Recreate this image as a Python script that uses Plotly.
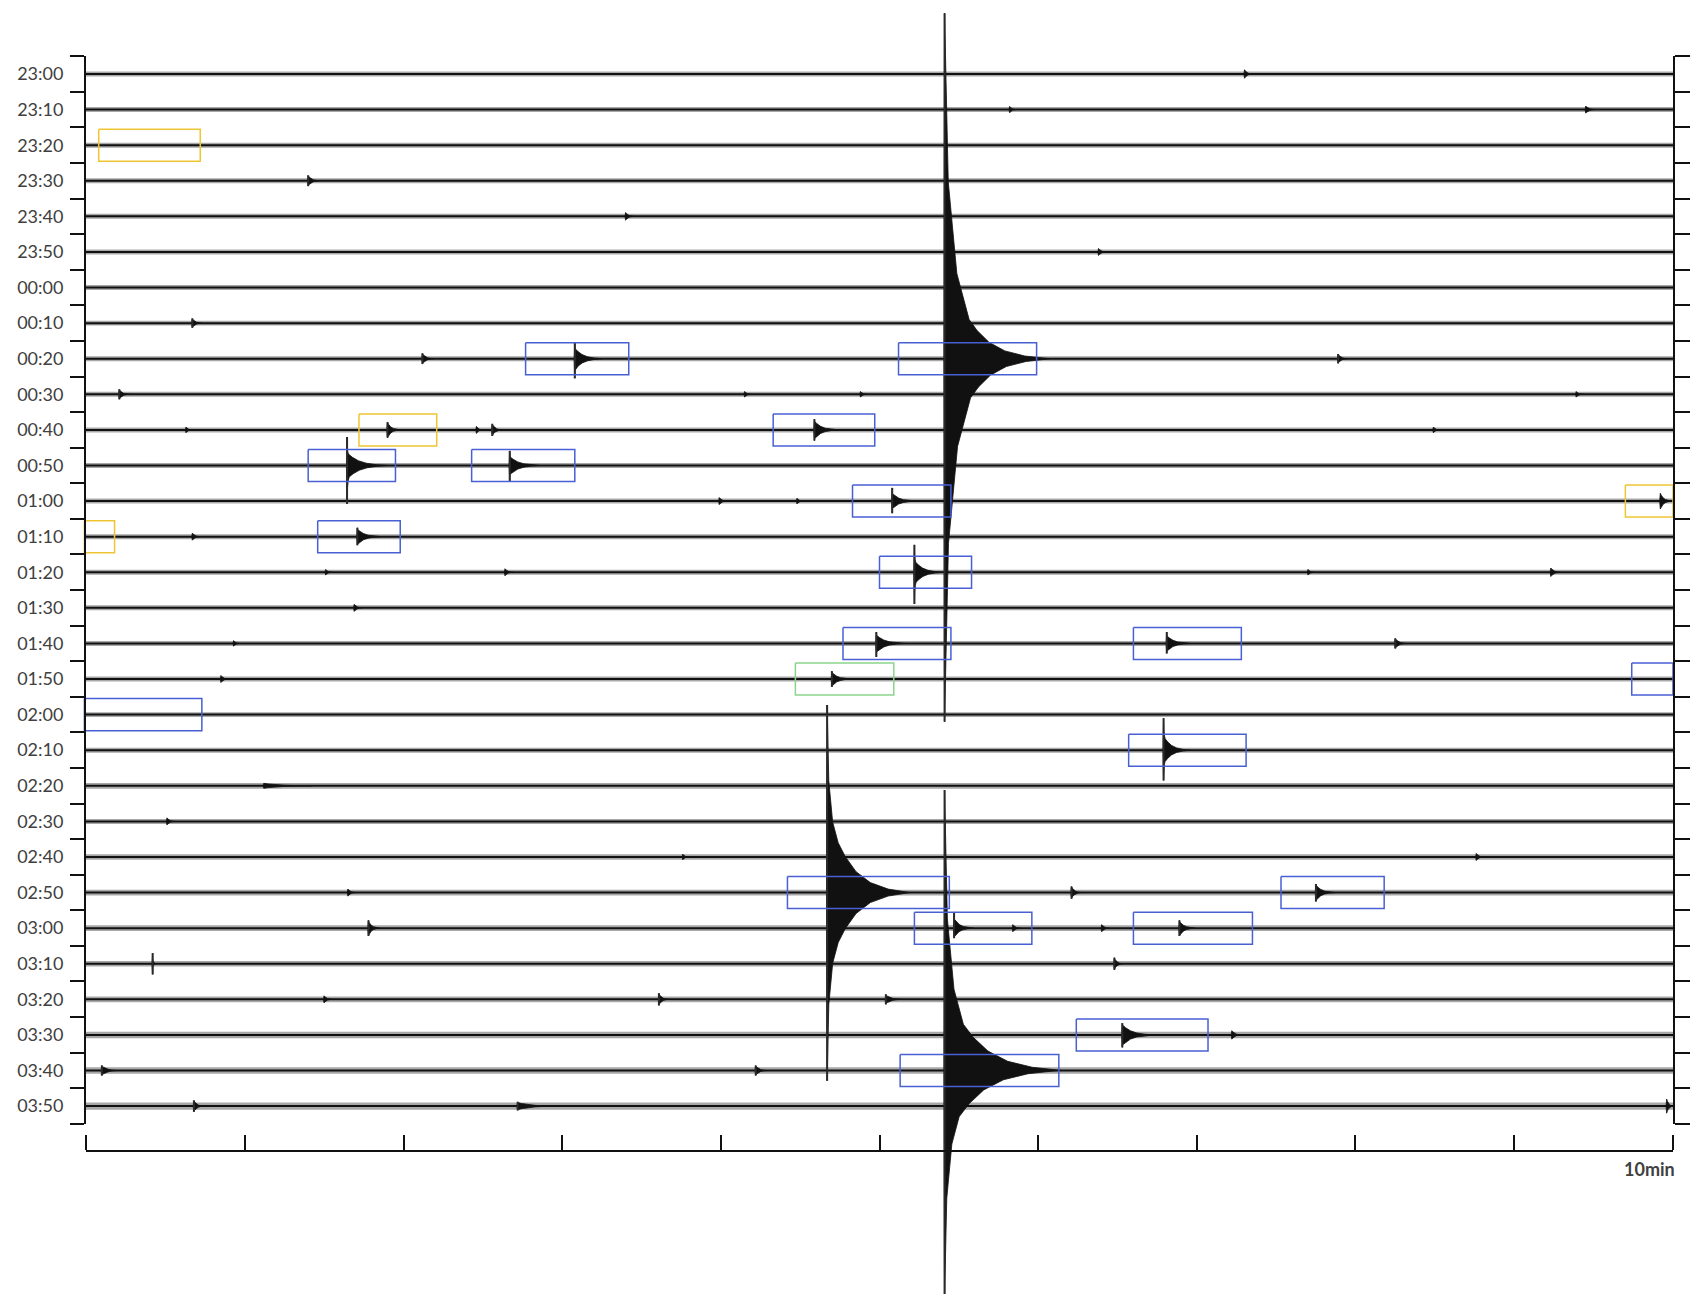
import plotly.graph_objects as go

# ---------------- data ----------------
ROW_LABELS = ["23:00", "23:10", "23:20", "23:30", "23:40", "23:50",
              "00:00", "00:10", "00:20", "00:30", "00:40", "00:50",
              "01:00", "01:10", "01:20", "01:30", "01:40", "01:50",
              "02:00", "02:10", "02:20", "02:30", "02:40", "02:50",
              "03:00", "03:10", "03:20", "03:30", "03:40", "03:50"]
MINUTE_TICKS = [0, 1, 2, 3, 4, 5, 6, 7, 8, 9, 10]
SPAN_LABEL = "10min"

# background noise half-amplitude per line (in line spacings)
ROW_NOISE = [0.07, 0.07, 0.07, 0.07, 0.07, 0.07,
             0.07, 0.07, 0.07, 0.07, 0.07, 0.07,
             0.07, 0.07, 0.07, 0.07, 0.07, 0.07,
             0.07, 0.07, 0.08, 0.07, 0.08, 0.08,
             0.08, 0.08, 0.08, 0.09, 0.09, 0.10]

# events: line, onset (min), peak up, peak down, body amplitude (line spacings), coda (min)
EV_ROW = ["23:00", "23:10", "23:10", "23:30", "23:40", "23:50", "00:10",
          "00:20", "00:20", "00:20", "00:20",
          "00:30", "00:30", "00:30", "00:30",
          "00:40", "00:40", "00:40", "00:40", "00:40", "00:40",
          "00:50", "00:50",
          "01:00", "01:00", "01:00", "01:00",
          "01:10", "01:10",
          "01:20", "01:20", "01:20", "01:20", "01:20",
          "01:30",
          "01:40", "01:40", "01:40", "01:40",
          "01:50", "01:50",
          "02:10", "02:20", "02:30", "02:40", "02:40",
          "02:50", "02:50", "02:50", "02:50",
          "03:00", "03:00", "03:00", "03:00", "03:00",
          "03:10", "03:10",
          "03:20", "03:20", "03:20",
          "03:30", "03:30",
          "03:40", "03:40", "03:40",
          "03:50", "03:50", "03:50"]
EV_T = [7.30, 5.82, 9.45, 1.40, 3.40, 6.38, 0.67,
        2.12, 3.08, 5.41, 7.89,
        0.21, 4.15, 4.88, 9.39,
        0.63, 1.90, 2.46, 2.56, 4.59, 8.49,
        1.645, 2.67,
        3.99, 4.48, 5.08, 9.92,
        0.67, 1.71,
        1.51, 2.64, 5.22, 7.70, 9.23,
        1.69,
        0.93, 4.98, 6.81, 8.25,
        0.85, 4.70,
        6.79, 1.12, 0.51, 3.76, 8.76,
        1.65, 4.67, 6.21, 7.75,
        1.78, 5.47, 5.84, 6.40, 6.89,
        0.42, 6.48,
        1.50, 3.61, 5.04,
        6.53, 7.22,
        0.10, 4.22, 5.41,
        0.68, 2.72, 9.96]
EV_UP = [0.12, 0.09, 0.10, 0.15, 0.11, 0.10, 0.13,
         0.15, 0.45, 9.71, 0.13,
         0.14, 0.08, 0.08, 0.08,
         0.08, 0.22, 0.10, 0.17, 0.30, 0.08,
         0.80, 0.41,
         0.10, 0.08, 0.37, 0.22,
         0.10, 0.25,
         0.08, 0.10, 0.77, 0.08, 0.12,
         0.10,
         0.08, 0.32, 0.32, 0.14,
         0.10, 0.22,
         0.90, 0.07, 0.10, 0.08, 0.10,
         0.10, 5.27, 0.17, 0.24,
         0.22, 0.43, 0.10, 0.10, 0.22,
         0.30, 0.17,
         0.10, 0.17, 0.14,
         0.33, 0.12,
         0.14, 0.14, 7.88,
         0.16, 0.12, 0.20]
EV_DOWN = [0.12, 0.09, 0.10, 0.15, 0.11, 0.10, 0.13,
           0.15, 0.55, 10.2, 0.13,
           0.14, 0.08, 0.08, 0.08,
           0.08, 0.22, 0.10, 0.17, 0.30, 0.08,
           1.08, 0.44,
           0.10, 0.08, 0.34, 0.22,
           0.10, 0.24,
           0.08, 0.10, 0.89, 0.08, 0.12,
           0.10,
           0.08, 0.38, 0.28, 0.14,
           0.10, 0.22,
           0.85, 0.07, 0.10, 0.08, 0.10,
           0.10, 5.29, 0.17, 0.25,
           0.22, 0.28, 0.10, 0.10, 0.22,
           0.30, 0.17,
           0.10, 0.17, 0.14,
           0.35, 0.12,
           0.14, 0.14, 6.40,
           0.16, 0.12, 0.20]
EV_BODY = [0.12, 0.09, 0.10, 0.14, 0.11, 0.10, 0.12,
           0.14, 0.28, 1.10, 0.12,
           0.13, 0.08, 0.08, 0.08,
           0.08, 0.20, 0.10, 0.16, 0.24, 0.08,
           0.32, 0.24,
           0.10, 0.08, 0.20, 0.22,
           0.10, 0.21,
           0.08, 0.10, 0.28, 0.08, 0.12,
           0.10,
           0.08, 0.23, 0.21, 0.13,
           0.10, 0.19,
           0.32, 0.07, 0.10, 0.08, 0.10,
           0.10, 1.40, 0.16, 0.21,
           0.19, 0.24, 0.10, 0.10, 0.19,
           0.05, 0.16,
           0.10, 0.15, 0.12,
           0.28, 0.12,
           0.13, 0.13, 1.30,
           0.15, 0.10, 0.20]
EV_CODA = [0.05, 0.04, 0.06, 0.07, 0.05, 0.05, 0.06,
           0.07, 0.17, 0.50, 0.06,
           0.06, 0.04, 0.04, 0.04,
           0.04, 0.08, 0.04, 0.06, 0.15, 0.04,
           0.25, 0.19,
           0.05, 0.04, 0.15, 0.07,
           0.05, 0.15,
           0.04, 0.05, 0.17, 0.04, 0.06,
           0.05,
           0.04, 0.18, 0.15, 0.07,
           0.05, 0.12,
           0.16, 0.30, 0.05, 0.04, 0.05,
           0.05, 0.45, 0.06, 0.12,
           0.07, 0.12, 0.05, 0.05, 0.10,
           0.02, 0.05,
           0.05, 0.06, 0.10,
           0.20, 0.06,
           0.10, 0.07, 0.62,
           0.06, 0.25, 0.04]

# marked windows: line, start (min), end (min), marker class
BOX_ROW = ["23:20", "00:20", "00:20", "00:40", "00:40", "00:50", "00:50",
           "01:00", "01:00", "01:10", "01:10", "01:20", "01:40", "01:40",
           "01:50", "01:50", "02:00", "02:10", "02:50", "02:50",
           "03:00", "03:00", "03:30", "03:40"]
BOX_T0 = [0.08, 2.77, 5.12, 1.72, 4.33, 1.40, 2.43,
          4.83, 9.70, -0.01, 1.46, 5.00, 4.77, 6.60,
          4.47, 9.74, -0.01, 6.57, 4.42, 7.53,
          5.22, 6.60, 6.24, 5.13]
BOX_T1 = [0.72, 3.42, 5.99, 2.21, 4.97, 1.95, 3.08,
          5.45, 10.0, 0.18, 1.98, 5.58, 5.45, 7.28,
          5.09, 10.0, 0.73, 7.31, 5.44, 8.18,
          5.96, 7.35, 7.07, 6.13]
BOX_CLASS = ["yellow", "blue", "blue", "yellow", "blue", "blue", "blue",
             "blue", "yellow", "yellow", "blue", "blue", "blue", "blue",
             "green", "blue", "blue", "blue", "blue", "blue",
             "blue", "blue", "blue", "blue"]

# ---------------- styling / geometry ----------------
W, H = 1693, 1294
X_LEFT_PX, X_RIGHT_PX = 86, 1673
ROW0_PX, ROW_PX = 74.0, 35.59
BOTTOM_AXIS_PX = 1152
PX_PER_MIN = (X_RIGHT_PX - X_LEFT_PX) / (MINUTE_TICKS[-1] - MINUTE_TICKS[0])
BOX_HALF = 0.45
SLOPE = 0.018           # width of the tapering spike, minutes per line spacing
TAPER_F = [0.0, 0.15, 0.5, 1.0]
TAPER_H = [1.0, 0.45, 0.15, 0.0]
EPS = 0.004
PROF_T = [0.0, 0.1, 0.25, 0.45, 0.7, 1.0]
PROF_A = [1.0, 0.72, 0.42, 0.2, 0.07, 0.0]
BOX_COLORS = {"blue": "#4860d4", "yellow": "#efc534", "green": "#8cd38c"}
INK = "#111111"
LABEL_COLOR = "#404040"
FONT = "Lato, 'Open Sans', sans-serif"

n_rows = len(ROW_LABELS)
row_y = {lab: -i for i, lab in enumerate(ROW_LABELS)}
t_min, t_max = MINUTE_TICKS[0], MINUTE_TICKS[-1]

fig = go.Figure()

# noise band
bx, by = [], []
for i, lab in enumerate(ROW_LABELS):
    y0 = row_y[lab]
    n = ROW_NOISE[i]
    bx += [t_min, t_max, t_max, t_min, t_min, None]
    by += [y0 + n, y0 + n, y0 - n, y0 - n, y0 + n, None]
fig.add_trace(go.Scatter(x=bx, y=by, mode="lines", fill="toself",
                         fillcolor="rgba(25,25,25,0.38)", line=dict(width=0),
                         hoverinfo="skip", showlegend=False))

# baselines
lx, ly = [], []
for lab in ROW_LABELS:
    lx += [t_min, t_max, None]
    ly += [row_y[lab], row_y[lab], None]
fig.add_trace(go.Scatter(x=lx, y=ly, mode="lines",
                         line=dict(color=INK, width=2),
                         hoverinfo="skip", showlegend=False))


def edge(t0, peak, body, coda):
    """One side of an event envelope: tapering spike, then decaying coda."""
    b = min(body, peak)
    w = SLOPE * (peak - b)
    pts = [(t0 - EPS, 0.0)]
    pts += [(t0 + w * f, b + (peak - b) * h) for f, h in zip(TAPER_F, TAPER_H)]
    pts += [(min(t0 + w + coda * p, t_max), b * a) for p, a in zip(PROF_T[1:], PROF_A[1:])]
    return pts


# event envelopes
ex, ey = [], []
sx, sy = [], []
for lab, t0, up, dn, body, coda in zip(EV_ROW, EV_T, EV_UP, EV_DOWN, EV_BODY, EV_CODA):
    y0 = row_y[lab]
    top = edge(t0, up, body, coda)
    bot = [(x, -y) for x, y in edge(t0, dn, body, coda)]
    pts = top + bot[::-1]
    ex += [p[0] for p in pts] + [None]
    ey += [y0 + p[1] for p in pts] + [None]
    if up > body or dn > body:
        sx += [t0, t0, None]
        sy += [y0 + up, y0 - dn, None]
fig.add_trace(go.Scatter(x=ex, y=ey, mode="lines", fill="toself",
                         fillcolor=INK, line=dict(color=INK, width=0.8),
                         hoverinfo="skip", showlegend=False))
fig.add_trace(go.Scatter(x=sx, y=sy, mode="lines",
                         line=dict(color="#2a2a2a", width=2),
                         hoverinfo="skip", showlegend=False))

# marked windows
for cls, col in BOX_COLORS.items():
    rx, ry = [], []
    for lab, a, b, c in zip(BOX_ROW, BOX_T0, BOX_T1, BOX_CLASS):
        if c != cls:
            continue
        y0 = row_y[lab]
        rx += [a, b, b, a, a, None]
        ry += [y0 + BOX_HALF, y0 + BOX_HALF, y0 - BOX_HALF, y0 - BOX_HALF, y0 + BOX_HALF, None]
    fig.add_trace(go.Scatter(x=rx, y=ry, mode="lines",
                             line=dict(color=col, width=1.5),
                             hoverinfo="skip", showlegend=False))

# dummy traces to create the frame subplots
for xa, ya in [("x2", "y2"), ("x2", "y3"), ("x4", "y4")]:
    fig.add_trace(go.Scatter(x=[None], y=[None], xaxis=xa, yaxis=ya,
                             hoverinfo="skip", showlegend=False))

# ---------------- axes ----------------
x_range = [t_min - X_LEFT_PX / PX_PER_MIN, t_min + (W - X_LEFT_PX) / PX_PER_MIN]
y_range = [(ROW0_PX - H) / ROW_PX, ROW0_PX / ROW_PX]

top_px = ROW0_PX - 0.5 * ROW_PX
bot_px = ROW0_PX + (n_rows - 0.5) * ROW_PX
frame_dom_y = [1 - bot_px / H, 1 - top_px / H]
frame_dom_x = [X_LEFT_PX / W, X_RIGHT_PX / W]
frame_range = [-(n_rows - 0.5) - 0.002, 0.502]
centers = [row_y[l] for l in ROW_LABELS]
bounds = [0.5 - k for k in range(n_rows + 1)]
pad_t = 0.002
axis_pos = 1 - BOTTOM_AXIS_PX / H

fig.update_layout(
    width=W, height=H, autosize=False,
    margin=dict(l=0, r=0, t=0, b=0, pad=0),
    paper_bgcolor="white", plot_bgcolor="rgba(0,0,0,0)",
    showlegend=False,
    xaxis=dict(domain=[0, 1], range=x_range, visible=False, fixedrange=True),
    yaxis=dict(domain=[0, 1], range=y_range, visible=False, fixedrange=True),
    xaxis2=dict(domain=frame_dom_x, range=[t_min - pad_t, t_max + pad_t], anchor="y2",
                visible=False),
    yaxis2=dict(domain=frame_dom_y, range=frame_range, anchor="x2", side="left",
                showline=True, linecolor=INK, linewidth=2,
                showgrid=False, zeroline=False,
                tickmode="array", tickvals=centers, ticktext=ROW_LABELS,
                ticks="outside", ticklen=17, tickcolor="rgba(0,0,0,0)",
                tickfont=dict(family=FONT, size=18, color=LABEL_COLOR),
                minor=dict(tickmode="array", tickvals=bounds, ticks="outside",
                           ticklen=14, tickwidth=2, tickcolor=INK, showgrid=False)),
    yaxis3=dict(domain=frame_dom_y, range=frame_range, anchor="x2", side="right",
                overlaying="y2", showline=True, linecolor=INK, linewidth=2,
                showgrid=False, zeroline=False,
                tickmode="array", tickvals=bounds, ticks="outside", ticklen=15,
                tickwidth=2, tickcolor=INK, showticklabels=False),
    xaxis4=dict(domain=frame_dom_x, range=[t_min - pad_t, t_max + pad_t], anchor="y4",
                side="top", showline=True, linecolor=INK, linewidth=2,
                showgrid=False, zeroline=False,
                tickmode="array", tickvals=MINUTE_TICKS, ticks="outside",
                ticklen=15, tickwidth=2, tickcolor=INK, showticklabels=False),
    yaxis4=dict(domain=[axis_pos - 0.02, axis_pos], range=[0, 1], anchor="x4",
                visible=False),
    annotations=[dict(text="<b>" + SPAN_LABEL + "</b>", xref="x4", x=t_max,
                      xanchor="right", xshift=4, yref="paper",
                      y=1 - (BOTTOM_AXIS_PX + 17) / H, yanchor="middle",
                      showarrow=False,
                      font=dict(family=FONT, size=18, color=LABEL_COLOR))],
)

fig.write_html("out.html")
